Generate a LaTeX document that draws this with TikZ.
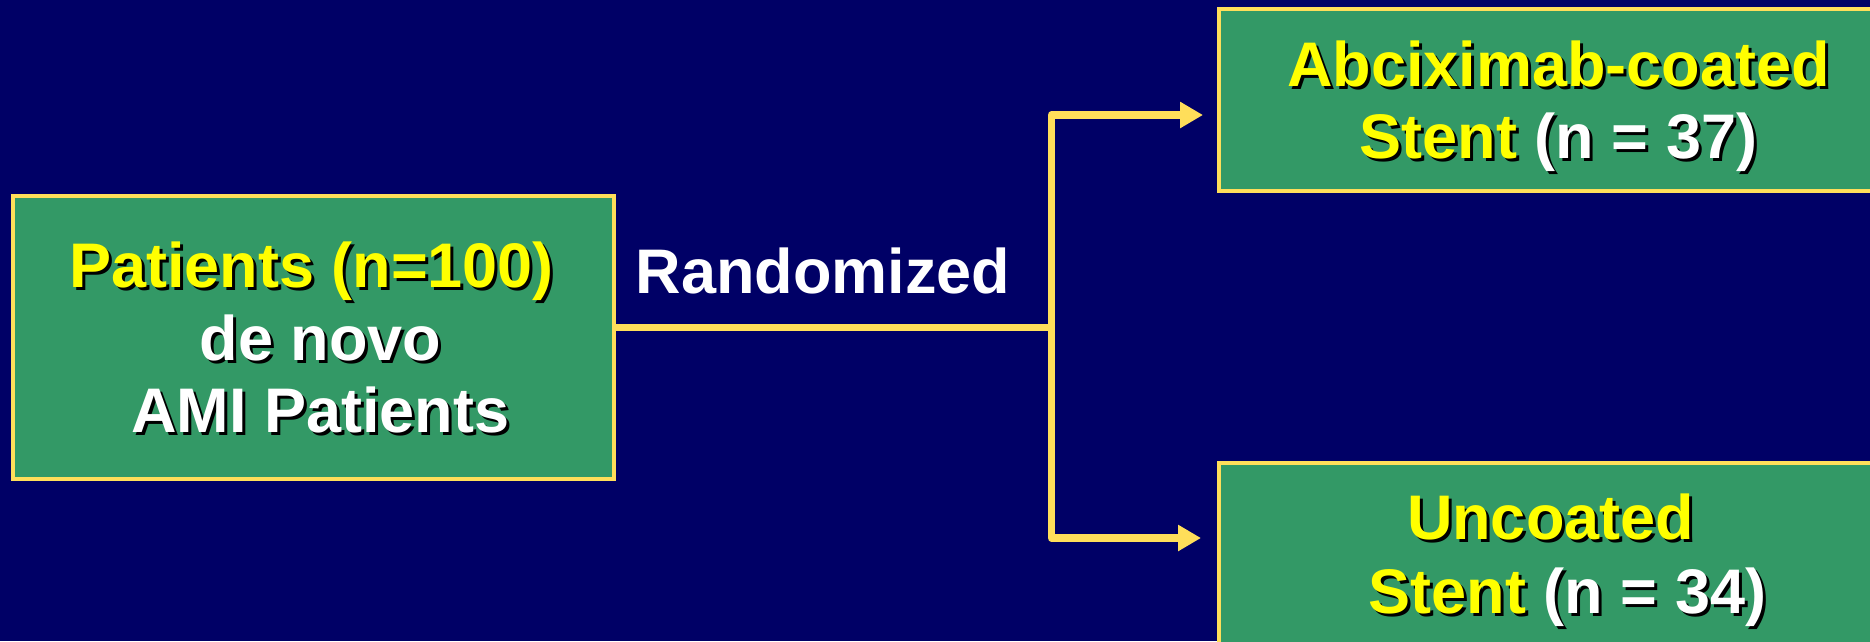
\documentclass[tikz,border=0pt]{standalone}
\usepackage{fontspec}
\setmainfont{Liberation Sans}
\usetikzlibrary{arrows.meta}
\definecolor{bg}{RGB}{0,0,102}
\definecolor{boxgreen}{RGB}{51,153,102}
\definecolor{lineyel}{RGB}{255,222,90}
\definecolor{txtyel}{RGB}{255,255,0}
\newcommand\shd[2]{\makebox[0pt][l]{\hspace{3pt}\raisebox{-3pt}{\textcolor{black}{#2}}}\textcolor{#1}{#2}}
\begin{document}
\begin{tikzpicture}[x=1pt,y=-1pt,
  box/.style={draw=lineyel, fill=boxgreen, line width=4pt, inner sep=0pt, outer sep=0pt},
  txt/.style={anchor=base, inner sep=0pt, font=\fontsize{63}{72}\selectfont\bfseries},
  conn/.style={draw=lineyel, line width=7.5pt, line join=round},
  tip/.style={-{Triangle[length=23pt,width=25pt]}}]
\fill[bg] (0,0) rectangle (1870,641);
\useasboundingbox (0,0) rectangle (1870,641);
\clip (0,0) rectangle (1870,641);
% boxes
\node[box, minimum width=601.3pt, minimum height=282.5pt] (pat) at (313.35,337.25) {};
\node[box, minimum width=684.5pt, minimum height=182pt] (coat) at (1560.75,100) {};
\node[box, minimum width=684.5pt, minimum height=182pt] (unc) at (1560.75,554) {};
% connectors
\coordinate (split) at (1051.5,327.5);
\coordinate (t1) at (1203,115);
\coordinate (t2) at (1201,538);
\draw[conn] (pat.east |- split) -- (split);
\draw[conn,tip] (split) -- (split |- t1) -- (t1);
\draw[conn,tip] (split) -- (split |- t2) -- (t2);
% texts
\node[txt] (p1) at (311.5,287) {\shd{txtyel}{Patients (n=100)}};
\node[txt] (p2) at (320.5,360) {\shd{white}{de novo}};
\node[txt] (p3) at (320.5,432) {\shd{white}{AMI Patients}};
\node[txt, text=white] (rnd) at (823,293) {Randomized};
\node[txt] (c1) at (1558.5,86) {\shd{txtyel}{Abciximab-coated}};
\node[txt] (c2) at (1558.5,158) {\shd{txtyel}{Stent} \shd{white}{(n = 37)}};
\node[txt] (u1) at (1550.5,539) {\shd{txtyel}{Uncoated}};
\node[txt] (u2) at (1567.5,613) {\shd{txtyel}{Stent} \shd{white}{(n = 34)}};
\end{tikzpicture}
\end{document}
